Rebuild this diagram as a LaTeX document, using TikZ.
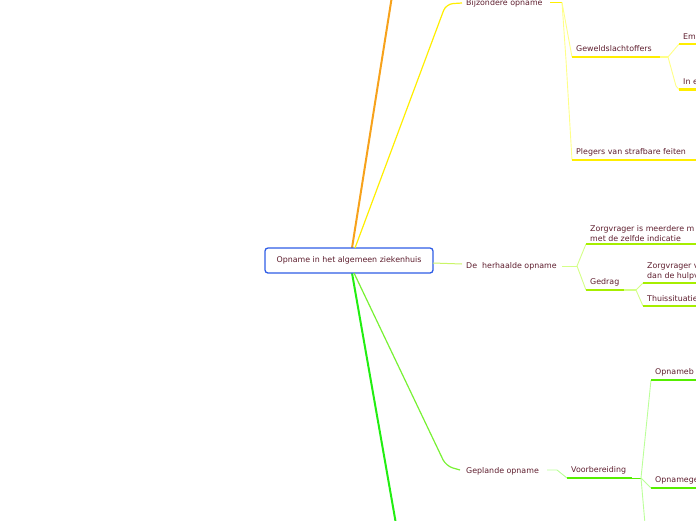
\documentclass[tikz,border=0pt]{standalone}
\usepackage{fontspec}
\setmainfont{DejaVu Sans}
\definecolor{txt}{HTML}{5E1E2E}
\definecolor{rootblue}{HTML}{2F5DE6}
\definecolor{orng}{HTML}{F7A21B}
\definecolor{yel}{HTML}{FFEE00}
\definecolor{yellight}{HTML}{FFFF88}
\definecolor{lime}{HTML}{A6EE00}
\definecolor{limelight}{HTML}{D4FF88}
\definecolor{grn}{HTML}{55EE00}
\definecolor{grnlight}{HTML}{BBFF99}
\definecolor{brightgrn}{HTML}{22EE11}
\tikzset{
  lbl/.style={anchor=west, inner sep=0pt, text=txt, font=\fontsize{7.9}{9.2}\selectfont, align=left},
  rootbox/.style={draw=rootblue, line width=1.3pt, rounded corners=3pt, fill=white, minimum width=168pt, minimum height=25pt, inner sep=0pt, text=txt, font=\fontsize{7.9}{9.2}\selectfont},
  ybar/.style={draw=yel, line width=2.6pt},
  ythin/.style={draw=yellight, line width=0.9pt},
  lbar/.style={draw=lime, line width=2.6pt},
  lthin/.style={draw=limelight, line width=0.9pt},
  gbar/.style={draw=grn, line width=2.6pt},
  gthin/.style={draw=grnlight, line width=0.9pt},
}
\begin{document}
\begin{tikzpicture}[x=1pt,y=-1pt]
\useasboundingbox (0,0) rectangle (696,520);
% main branch lines (behind root)
\coordinate (rt) at (352,248);
\coordinate (rb) at (352,273);
\coordinate (oEnd) at (392,-4);
\coordinate (gEnd) at (396,524);
\draw[draw=orng, line width=2pt] (rt) -- (oEnd);
\draw[draw=brightgrn, line width=2pt] (rb) -- (gEnd);

\node[rootbox] (root) at (349,260.5) {Opname in het algemeen ziekenhuis};

% ---- Bijzondere opname (yellow)
\node[lbl] (bij) at (466,3.5) {Bijzondere opname};
\coordinate (bijIn) at (462,3);
\coordinate (bijOut) at (550,2.5);
\coordinate (bijJ) at (562,2.5);
\draw[draw=yel, line width=1.2pt, rounded corners=7pt] (355,248) -- (446,4) -- (bijIn);
\draw[draw=yel, line width=1pt] (bijOut) -- (bijJ);

\coordinate (gwA) at (572,57);
\coordinate (gwB) at (660,57);
\coordinate (gwC) at (668,57);
\node[lbl] (gw) at (576,48.5) {Geweldslachtoffers};
\draw[ythin] (bijJ) -- (gwA);
\draw[ybar] (gwA) -- (gwB);
\draw[draw=yellight, line width=2.6pt] (gwB) -- (gwC);

\coordinate (emA) at (679,44);
\coordinate (emB) at (700,44);
\node[lbl] (em) at (683,36.5) {Em};
\coordinate (ineA) at (679,89.5);
\coordinate (ineB) at (700,89.5);
\node[lbl] (ine) at (683,81.5) {In e};
\draw[ythin] (gwC) -- (emA);
\draw[ythin] (gwC) -- (676,86) -- (ineA);
\draw[ybar] (emA) -- (emB);
\draw[ybar] (ineA) -- (ineB);

\coordinate (plA) at (572,160);
\coordinate (plB) at (700,160);
\node[lbl] (pl) at (576,152.5) {Plegers van strafbare feiten};
\draw[ythin] (bijJ) -- (566,60) -- (plA);
\draw[ybar] (plA) -- (plB);

% ---- De herhaalde opname (lime)
\node[lbl] (her) at (466,266.5) {De\ \ herhaalde opname};
\draw[draw=lime!60, line width=1pt] (433,263) -- (462,264);
\coordinate (herJ) at (577,266);
\draw[lthin] (562,266) -- (herJ);

\coordinate (zmA) at (586,244);
\coordinate (zmB) at (700,244);
\node[lbl, anchor=south west] (zm) at (590,241.5) {Zorgvrager is meerdere m\\met de zelfde indicatie};
\draw[lthin] (herJ) -- (zmA);
\draw[lbar] (zmA) -- (zmB);

\coordinate (gdA) at (586,290);
\coordinate (gdB) at (624,290);
\coordinate (gdC) at (636,290);
\node[lbl] (gd) at (590,282) {Gedrag};
\draw[lthin] (herJ) -- (gdA);
\draw[lbar] (gdA) -- (gdB);
\draw[draw=limelight, line width=2.6pt] (gdB) -- (gdC);

\coordinate (zvA) at (643,283);
\coordinate (zvB) at (700,283);
\node[lbl, anchor=south west] (zv) at (647,280) {Zorgvrager v\\dan de hulpv};
\coordinate (thA) at (643,306);
\coordinate (thB) at (700,306);
\node[lbl] (th) at (647,298.5) {Thuissituatie};
\draw[lthin] (gdC) -- (zvA);
\draw[lthin] (gdC) -- (thA);
\draw[lbar] (zvA) -- (zvB);
\draw[lbar] (thA) -- (thB);

% ---- Geplande opname (green)
\node[lbl] (gep) at (466,471) {Geplande opname};
\draw[draw=grn!80, line width=1.2pt, rounded corners=7pt] (354,273) -- (446,466) -- (460,470);
\coordinate (vbA) at (567,478);
\coordinate (vbB) at (632,478);
\coordinate (vbJ) at (641,478);
\node[lbl] (vb) at (571,470.5) {Voorbereiding};
\draw[gthin] (547,470) -- (557,470) -- (vbA);
\draw[gbar] (vbA) -- (vbB);
\draw[draw=grn, line width=0.9pt] (vbB) -- (vbJ);

\coordinate (obA) at (651,380);
\coordinate (obB) at (700,380);
\node[lbl] (ob) at (655,372.5) {Opnameb};
\coordinate (ogA) at (651,488);
\coordinate (ogB) at (700,488);
\node[lbl] (og) at (655,480.5) {Opnamege};
\coordinate (dnEnd) at (645,524);
\draw[gthin] (vbJ) -- (obA);
\draw[gthin] (vbJ) -- (ogA);
\draw[gthin] (vbJ) -- (dnEnd);
\draw[gbar] (obA) -- (obB);
\draw[gbar] (ogA) -- (ogB);
\end{tikzpicture}
\end{document}
